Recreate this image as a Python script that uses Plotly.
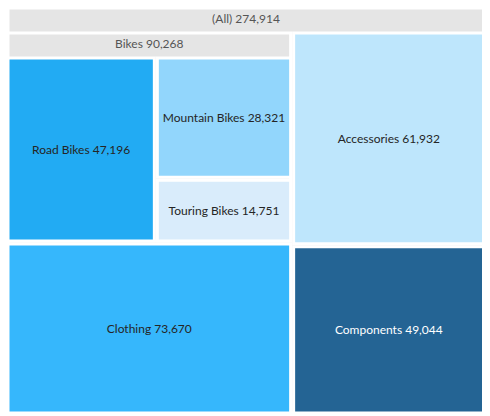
import plotly.graph_objects as go

# hierarchy
ids = ["(All)", "Bikes", "Accessories", "Clothing", "Components",
       "Road Bikes", "Mountain Bikes", "Touring Bikes"]
parents = ["", "(All)", "(All)", "(All)", "(All)", "Bikes", "Bikes", "Bikes"]
values = [274914, 90268, 61932, 73670, 49044, 47196, 28321, 14751]

colors = ["#e5e5e5", "#e5e5e5", "#bee6fc", "#36b7fc", "#246494",
          "#22abf3", "#92d6fc", "#d9ecfb"]
text_colors = ["#555555", "#555555", "#252525", "#252525", "#ffffff",
               "#252525", "#252525", "#252525"]

cell_labels = [f"{name} {val:,}" for name, val in zip(ids, values)]

fig = go.Figure(go.Treemap(
    ids=ids,
    labels=cell_labels,
    parents=parents,
    values=values,
    branchvalues="total",
    sort=True,
    textinfo="label",
    textposition="middle center",
    textfont=dict(family="Lato", size=12, color=text_colors),
    marker=dict(colors=colors, line=dict(color="white", width=3),
                pad=dict(t=25, l=0, r=0, b=0)),
    tiling=dict(pad=3, packing="squarify"),
    pathbar=dict(visible=False),
    hoverinfo="label",
))

# page body adds 8px margin, so the figure is drawn a little smaller
fig.update_layout(
    width=482, height=408,
    margin=dict(l=0, r=6, t=0, b=3),
    paper_bgcolor="white",
    font=dict(family="Lato", size=12),
)

fig.write_html("out.html")
